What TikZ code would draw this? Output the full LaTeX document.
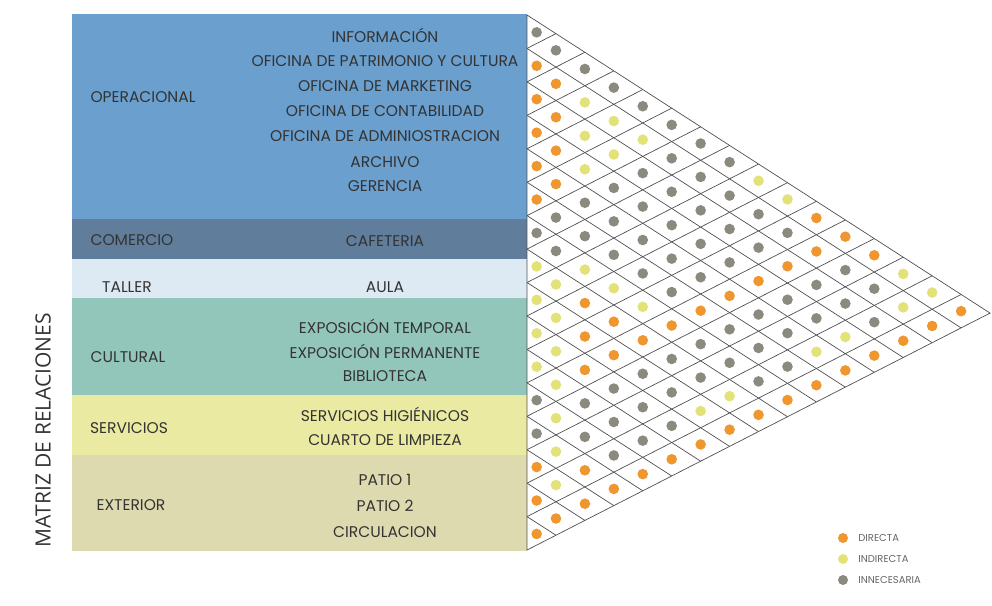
\documentclass[tikz,border=0pt]{standalone}
\usepackage{fontspec}
\setmainfont{Poppins}
\newfontfamily\titlefont{Open Sans}
\definecolor{MatrizOper}{HTML}{6A9FCE}
\definecolor{MatrizComercio}{HTML}{607E9C}
\definecolor{MatrizTaller}{HTML}{DDEAF3}
\definecolor{MatrizCultural}{HTML}{92C6BA}
\definecolor{MatrizServicios}{HTML}{EBEAA2}
\definecolor{MatrizExterior}{HTML}{DEDAB0}
\definecolor{MatrizInk}{HTML}{333333}
\definecolor{MatrizGrid}{HTML}{505050}
\definecolor{relO}{HTML}{F0962E}
\definecolor{relY}{HTML}{E3E278}
\definecolor{relG}{HTML}{8C8A7E}
\usepackage{tikz}
\usetikzlibrary{positioning}

\begin{document}
\begin{tikzpicture}[
    x=1pt, y=-1pt,
    itemtext/.style={text=MatrizInk, font=\fontsize{15.5}{17}\selectfont, inner sep=0pt},
    cattext/.style={itemtext},
    gridline/.style={draw=MatrizGrid, line width=0.7pt},
    legdot/.style={circle, minimum size=10pt, inner sep=0pt},
    legtext/.style={text=black!60, font=\fontsize{10}{12}\selectfont, inner sep=0pt}
  ]
  \fill[white] (0,0) rectangle (992,605);

  % bandas
  \fill[MatrizOper]      (72,14)  rectangle (527,219);
  \fill[MatrizComercio]  (72,219) rectangle (527,259);
  \fill[MatrizTaller]    (72,259) rectangle (527,298);
  \fill[MatrizCultural]  (72,298) rectangle (527,395);
  \fill[MatrizServicios] (72,395) rectangle (527,455);
  \fill[MatrizExterior]  (72,455) rectangle (527,551);

  \node[cattext] (operacional) at (143,97)  {OPERACIONAL};
  \node[cattext] (comercio)    at (132,240) {COMERCIO};
  \node[cattext] (taller)      at (127,287) {TALLER};
  \node[cattext] (cultural)    at (128,357) {CULTURAL};
  \node[cattext] (servicios)   at (129,428) {SERVICIOS};
  \node[cattext] (exterior)    at (131,505) {EXTERIOR};

  \foreach \txt/\ypos [count=\n] in {
      INFORMACIÓN/35, OFICINA DE PATRIMONIO Y CULTURA/61, OFICINA DE MARKETING/86,
      OFICINA DE CONTABILIDAD/111, OFICINA DE ADMINIOSTRACION/136, ARCHIVO/162,
      GERENCIA/186, CAFETERIA/241, AULA/287, EXPOSICIÓN TEMPORAL/326,
      EXPOSICIÓN PERMANENTE/351, BIBLIOTECA/376, SERVICIOS HIGIÉNICOS/414,
      CUARTO DE LIMPIEZA/440, PATIO 1/480, PATIO 2/506, CIRCULACION/532}
    \node[itemtext] (item\n) at (385,\ypos) {\txt};

  \node[rotate=90, text=MatrizInk, font=\titlefont\fontsize{21}{24}\selectfont]
    (titulo) at (43,430) {MATRIZ DE RELACIONES};

  % matriz
  \begin{scope}[shift={(527,15)}, x={(28.94pt,-18.63pt)}, y={(0pt,-33.44pt)}]
    \foreach \k in {1,...,15}
      \draw[gridline] (0,\k) -- ({16-\k},\k);
    \foreach \m in {1,...,15}
      \draw[gridline] (\m,0) -- (0,\m);
    \draw[gridline] (0,0) -- (16,0) -- (0,16) -- cycle;
    \foreach \i/\row in {
        0/{G,G,G,G,G,G,G,G,Y,Y,O,O,O,Y,Y,O},
        1/{O,O,Y,Y,Y,G,G,G,G,G,O,G,G,Y,O},
        2/{O,O,Y,Y,G,G,G,G,G,O,G,G,G,O},
        3/{O,O,Y,G,G,G,G,G,O,G,G,Y,O},
        4/{O,O,G,G,G,G,G,O,G,G,Y,O},
        5/{O,G,G,G,G,G,O,G,G,G,O},
        6/{G,G,Y,Y,Y,O,G,G,G,O},
        7/{Y,Y,O,O,O,G,G,Y,O},
        8/{Y,Y,O,O,G,G,Y,O},
        9/{Y,Y,O,G,G,G,O},
        10/{Y,Y,G,G,G,O},
        11/{G,Y,G,G,O},
        12/{G,Y,O,O},
        13/{O,Y,O},
        14/{O,O},
        15/{O}}
      \foreach \col [count=\nn] in \row {
        \ifnum\nn=1
          \def\cu{0.333}\pgfmathsetmacro\cv{\i+0.333}
        \else
          \pgfmathsetmacro\cu{\nn-1}\pgfmathsetmacro\cv{\i+0.5}
        \fi
        \fill[rel\col] (\cu,\cv) circle[radius=5.3pt];
      }
  \end{scope}

  % leyenda
  \node[legdot, fill=relO] (dotDirecta)     at (843,538) {};
  \node[legdot, fill=relY] (dotIndirecta)   at (843,559) {};
  \node[legdot, fill=relG] (dotInnecesaria) at (843,580) {};
  \node[legtext, right=10pt of dotDirecta]     (txtDirecta)     {DIRECTA};
  \node[legtext, right=10pt of dotIndirecta]   (txtIndirecta)   {INDIRECTA};
  \node[legtext, right=10pt of dotInnecesaria] (txtInnecesaria) {INNECESARIA};
\end{tikzpicture}
\end{document}
